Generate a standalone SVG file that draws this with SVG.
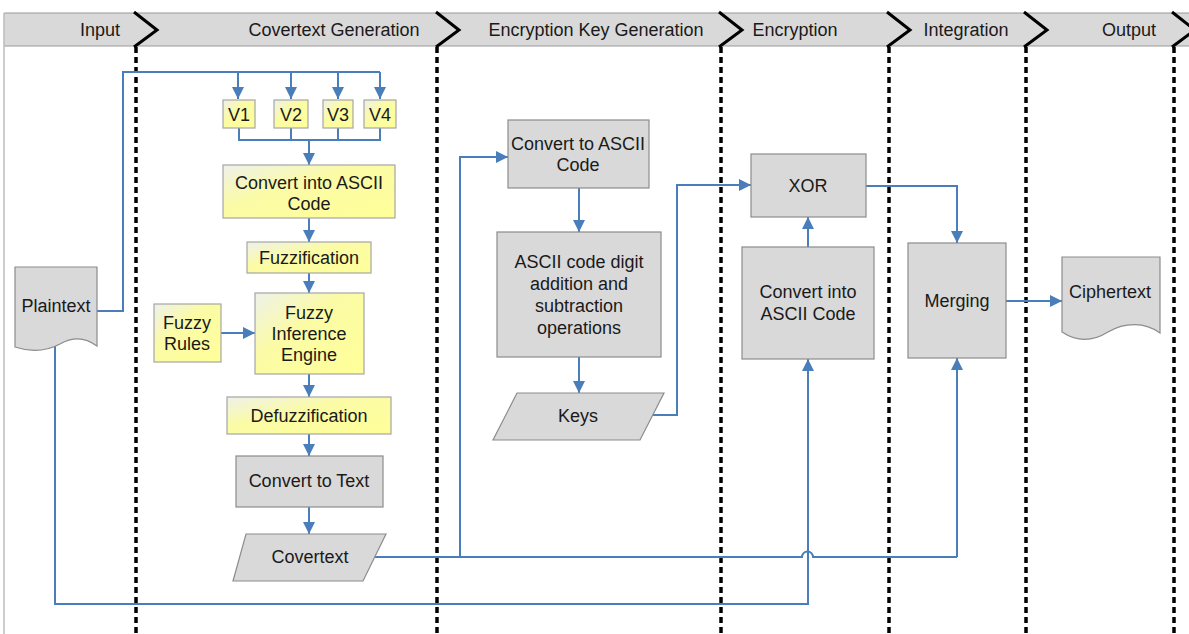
<svg xmlns="http://www.w3.org/2000/svg" width="1189" height="634" viewBox="0 0 1189 634">
<defs>
<linearGradient id="yel" x1="0" y1="0" x2="1" y2="1">
<stop offset="0" stop-color="#eef1ea"/>
<stop offset="0.4" stop-color="#fbfba6"/>
<stop offset="1" stop-color="#ffff99"/>
</linearGradient>
<marker id="arr" viewBox="0 0 10 10" refX="10" refY="5" markerWidth="12" markerHeight="12" markerUnits="userSpaceOnUse" orient="auto">
<path d="M0,0 L10,5 L0,10 z" fill="#4a7ebb"/>
</marker>
<style>
.hdr{font-family:"Liberation Sans",Arial,sans-serif;font-size:18px;fill:#1a1a1a;text-anchor:middle}
.t{font-family:"Liberation Sans",Arial,sans-serif;font-size:18px;fill:#1a1a1a;text-anchor:middle}
.g{fill:#d9d9d9;stroke:#8c8c8c;stroke-width:1.2}
.y{fill:url(#yel);stroke:#a6a6a6;stroke-width:1.2}
.c{fill:none;stroke:#4a7ebb;stroke-width:2}
.a{marker-end:url(#arr)}
.sep{stroke:#000;stroke-width:3.5;stroke-dasharray:6 4;fill:none}
.chev{stroke:#000;stroke-width:3;fill:none;stroke-linejoin:miter}
</style>
</defs>
<rect x="0" y="0" width="1189" height="634" fill="#ffffff"/>
<g id="header">
<rect x="4" y="13" width="1185" height="33" fill="#d9d9d9"/>
<line x1="4" y1="13" x2="1189" y2="13" stroke="#999" stroke-width="1.2"/>
<line x1="4" y1="46" x2="1189" y2="46" stroke="#999" stroke-width="1.2"/>
<line x1="4" y1="13" x2="4" y2="634" stroke="#bbb" stroke-width="1.5"/>
<text class="hdr" x="100" y="36">Input</text>
<text class="hdr" x="334" y="36">Covertext Generation</text>
<text class="hdr" x="596" y="36">Encryption Key Generation</text>
<text class="hdr" x="795" y="36">Encryption</text>
<text class="hdr" x="966" y="36">Integration</text>
<text class="hdr" x="1129" y="36">Output</text>
</g>
<g id="separators">
<polyline class="chev" points="134,12 157,30 134,47"/>
<line class="sep" x1="136" y1="47" x2="136" y2="634"/>
<polyline class="chev" points="436,12 459,30 436,47"/>
<line class="sep" x1="437" y1="47" x2="437" y2="634"/>
<polyline class="chev" points="719,12 742,30 719,47"/>
<line class="sep" x1="721" y1="47" x2="721" y2="634"/>
<polyline class="chev" points="887,12 910,30 887,47"/>
<line class="sep" x1="889" y1="47" x2="889" y2="634"/>
<polyline class="chev" points="1024,12 1047,30 1024,47"/>
<line class="sep" x1="1026" y1="47" x2="1026" y2="634"/>
<polyline class="chev" points="1172,12 1195,30 1172,47"/>
<line class="sep" x1="1174" y1="47" x2="1174" y2="634"/>
</g>
<g id="connectors">
<path class="c" d="M97,311 H123 V72 H380"/>
<path class="c a" d="M238,72 V99"/>
<path class="c a" d="M291,72 V99"/>
<path class="c a" d="M338,72 V99"/>
<path class="c a" d="M380,72 V99"/>
<path class="c" d="M239,128 V140 H380 V128 M291,128 V140 M338,128 V140"/>
<path class="c a" d="M309,140 V165"/>
<path class="c a" d="M309,218 V242"/>
<path class="c a" d="M309,273 V293"/>
<path class="c a" d="M221,333 H255"/>
<path class="c a" d="M309,374 V397"/>
<path class="c a" d="M309,434 V456"/>
<path class="c a" d="M309,507 V534"/>
<path class="c" d="M373,557 H802 A5.5,5.5 0 0 1 813,557 H957"/>
<path class="c a" d="M957,557 V358"/>
<path class="c a" d="M460,557 V157 H508"/>
<path class="c a" d="M55,345 V604 H808 V359"/>
<path class="c a" d="M579,188 V232"/>
<path class="c a" d="M579,357 V393"/>
<path class="c a" d="M653,415 H677 V185 H751"/>
<path class="c a" d="M808,247 V217"/>
<path class="c a" d="M866,186 H957 V243"/>
<path class="c a" d="M1006,301 H1062"/>
</g>
<g id="plaintext">
<path class="g" d="M15,267 H97 V346 C85,337 72,337 60,344 C45,352 30,352 15,347 Z"/>
<text class="t" x="56" y="312">Plaintext</text>
</g>
<g id="v1"><rect class="y" x="223" y="100" width="32" height="28"/><text class="t" x="239" y="121">V1</text></g>
<g id="v2"><rect class="y" x="274" y="100" width="34" height="28"/><text class="t" x="291" y="121">V2</text></g>
<g id="v3"><rect class="y" x="323" y="100" width="30" height="28"/><text class="t" x="338" y="121">V3</text></g>
<g id="v4"><rect class="y" x="364" y="100" width="32" height="28"/><text class="t" x="380" y="121">V4</text></g>
<g id="convert-ascii-1">
<rect class="y" x="223" y="165" width="172" height="53"/>
<text class="t" x="309" y="189">Convert into ASCII</text>
<text class="t" x="309" y="210">Code</text>
</g>
<g id="fuzzification">
<rect class="y" x="247" y="242" width="124" height="31"/>
<text class="t" x="309" y="264">Fuzzification</text>
</g>
<g id="fuzzy-rules">
<rect class="y" x="154" y="304" width="67" height="58"/>
<text class="t" x="187" y="329">Fuzzy</text>
<text class="t" x="187" y="350">Rules</text>
</g>
<g id="fie">
<rect class="y" x="255" y="293" width="109" height="81"/>
<text class="t" x="309" y="319">Fuzzy</text>
<text class="t" x="309" y="340">Inference</text>
<text class="t" x="309" y="361">Engine</text>
</g>
<g id="defuzzification">
<rect class="y" x="227" y="397" width="164" height="37"/>
<text class="t" x="309" y="422">Defuzzification</text>
</g>
<g id="convert-text">
<rect class="g" x="236" y="456" width="147" height="51"/>
<text class="t" x="309" y="487">Convert to Text</text>
</g>
<g id="covertext">
<path class="g" d="M246,534 H386 L363,581 H233 Z"/>
<text class="t" x="310" y="563">Covertext</text>
</g>
<g id="convert-ascii-2">
<rect class="g" x="508" y="120" width="141" height="68"/>
<text class="t" x="578" y="150">Convert to ASCII</text>
<text class="t" x="578" y="171">Code</text>
</g>
<g id="digit-ops">
<rect class="g" x="497" y="232" width="164" height="125"/>
<text class="t" x="579" y="268">ASCII code digit</text>
<text class="t" x="579" y="290">addition and</text>
<text class="t" x="579" y="312">subtraction</text>
<text class="t" x="579" y="334">operations</text>
</g>
<g id="keys">
<path class="g" d="M517,393 H664 L640,440 H493 Z"/>
<text class="t" x="578" y="422">Keys</text>
</g>
<g id="xor">
<rect class="g" x="751" y="154" width="115" height="63"/>
<text class="t" x="808" y="192">XOR</text>
</g>
<g id="convert-ascii-3">
<rect class="g" x="742" y="247" width="132" height="112"/>
<text class="t" x="808" y="298">Convert into</text>
<text class="t" x="808" y="320">ASCII Code</text>
</g>
<g id="merging">
<rect class="g" x="908" y="243" width="98" height="115"/>
<text class="t" x="957" y="307">Merging</text>
</g>
<g id="ciphertext">
<path class="g" d="M1062,257 H1160 V333 C1145,322 1125,322 1108,332 C1092,342 1077,342 1062,332 Z"/>
<text class="t" x="1110" y="298">Ciphertext</text>
</g>
</svg>
